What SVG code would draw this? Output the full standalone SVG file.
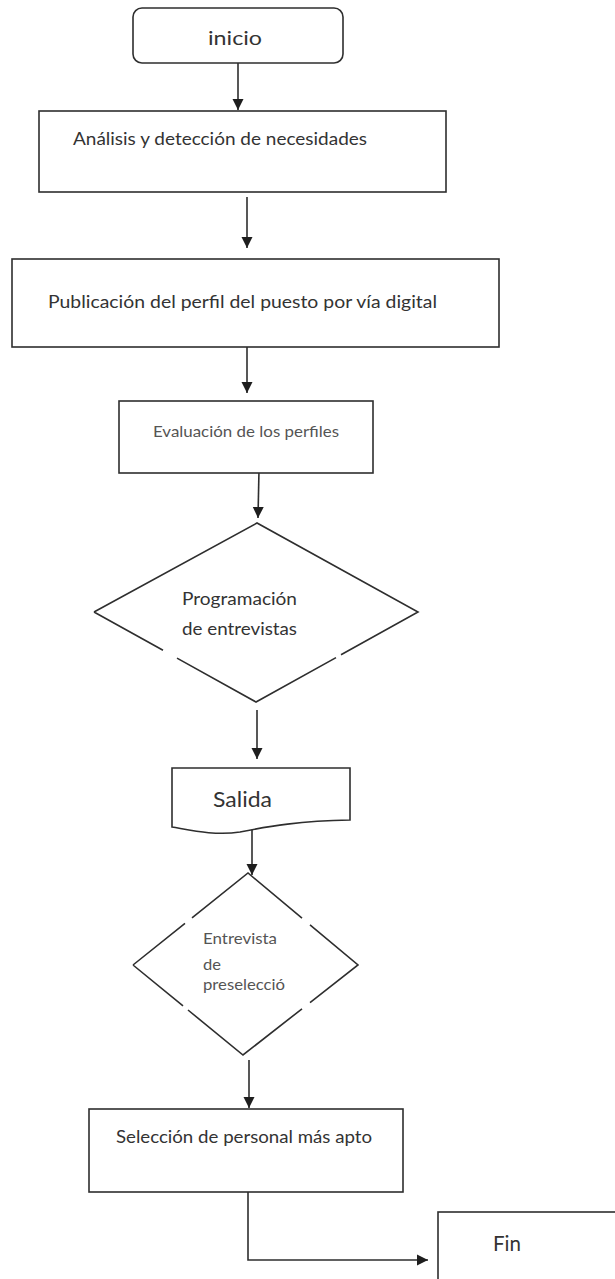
<svg xmlns="http://www.w3.org/2000/svg" width="615" height="1279" viewBox="0 0 615 1279">
  <style>
    .shape { fill: #ffffff; stroke: #2e2e2e; stroke-width: 1.6; }
    .edge { fill: none; stroke: #2e2e2e; stroke-width: 1.6; }
    .label { font-family: "Lato", "Open Sans", "Liberation Sans", sans-serif; fill: #333333; }
    .soft { fill: #555555; }
  </style>
  <defs>
    <marker id="arrow" markerUnits="userSpaceOnUse" markerWidth="12" markerHeight="12" viewBox="0 0 12 12" refX="11" refY="6" orient="auto">
      <path d="M0,0.5 L11,6 L0,11.5 Z" fill="#1e1e1e"/>
    </marker>
  </defs>

  <rect width="615" height="1279" fill="#ffffff"/>

  <!-- connectors -->
  <g id="connectors">
    <line class="edge" x1="238" y1="63" x2="238" y2="110" marker-end="url(#arrow)"/>
    <line class="edge" x1="247" y1="197" x2="247" y2="248" marker-end="url(#arrow)"/>
    <line class="edge" x1="247" y1="346" x2="247" y2="393" marker-end="url(#arrow)"/>
    <line class="edge" x1="259" y1="470" x2="258" y2="518" marker-end="url(#arrow)"/>
    <line class="edge" x1="257" y1="710" x2="257" y2="759" marker-end="url(#arrow)"/>
    <line class="edge" x1="252" y1="829" x2="252" y2="875" marker-end="url(#arrow)"/>
    <line class="edge" x1="249" y1="1060" x2="249" y2="1108" marker-end="url(#arrow)"/>
    <polyline class="edge" points="248,1188 248,1260 428,1260" marker-end="url(#arrow)"/>
  </g>

  <!-- start -->
  <g id="inicio">
    <rect class="shape" x="133" y="8" width="210" height="55" rx="9" ry="9"/>
    <text class="label" x="208" y="45" font-size="20" textLength="54" lengthAdjust="spacingAndGlyphs">inicio</text>
  </g>

  <g id="analisis">
    <rect class="shape" x="39" y="111" width="407" height="81"/>
    <text class="label" x="73" y="145" font-size="17" textLength="294" lengthAdjust="spacingAndGlyphs">Análisis y detección de necesidades</text>
  </g>

  <g id="publicacion">
    <rect class="shape" x="12" y="259" width="487" height="88"/>
    <text class="label" x="48" y="308" font-size="16.5" textLength="389" lengthAdjust="spacingAndGlyphs">Publicación del perfil del puesto por vía digital</text>
  </g>

  <g id="evaluacion">
    <rect class="shape" x="119" y="401" width="254" height="72"/>
    <text class="label soft" x="153" y="437" font-size="15" textLength="186" lengthAdjust="spacingAndGlyphs">Evaluación de los perfiles</text>
  </g>

  <!-- decision with broken outline -->
  <g id="programacion">
    <polygon points="94,612 257,523 418,612 256,702" fill="#ffffff" stroke="none"/>
    <path class="edge" d="M94,612 L257,523 L418,612 L341,654.8 M336,657.6 L256,702 L177,658.1 M163,650.3 L94,612"/>
    <text class="label" font-size="18">
      <tspan x="182" y="605" textLength="115" lengthAdjust="spacingAndGlyphs">Programación</tspan>
      <tspan x="182" y="635" textLength="115" lengthAdjust="spacingAndGlyphs">de entrevistas</tspan>
    </text>
  </g>

  <!-- document shape -->
  <g id="salida">
    <path class="shape" d="M172,768 H350 V820 C300,821 270,826 240,832 C215,836 190,830 172,827 Z"/>
    <text class="label" x="213" y="807" font-size="22" textLength="59" lengthAdjust="spacingAndGlyphs">Salida</text>
  </g>

  <g id="entrevista">
    <polygon points="133,965 248,873 358,965 243,1055" fill="#ffffff" stroke="none"/>
    <path class="edge" d="M133,965 L185,923.4 M192,917.8 L248,873 L302,918.2 M310,924.8 L358,965 L310,1002.6 M302,1008.8 L243,1055 L188,1010 M183,1005.9 L133,965"/>
    <text class="label soft" font-size="15">
      <tspan x="203" y="944" textLength="74" lengthAdjust="spacingAndGlyphs">Entrevista</tspan>
      <tspan x="203" y="970" textLength="18" lengthAdjust="spacingAndGlyphs">de</tspan>
      <tspan x="203" y="990" textLength="82" lengthAdjust="spacingAndGlyphs">preselecció</tspan>
    </text>
  </g>

  <g id="seleccion">
    <rect class="shape" x="89" y="1109" width="314" height="83"/>
    <text class="label" x="116" y="1143" font-size="17" textLength="256" lengthAdjust="spacingAndGlyphs">Selección de personal más apto</text>
  </g>

  <g id="fin">
    <rect class="shape" x="438" y="1212" width="200" height="100"/>
    <text class="label" x="493" y="1251" font-size="22" textLength="28" lengthAdjust="spacingAndGlyphs">Fin</text>
  </g>
</svg>
